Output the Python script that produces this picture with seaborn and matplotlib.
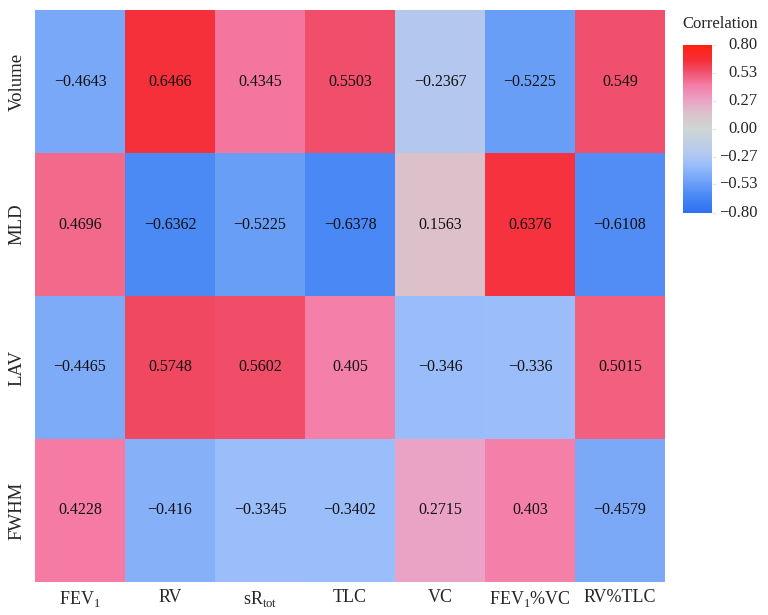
import matplotlib
matplotlib.use("Agg")
import matplotlib.pyplot as plt
import numpy as np
import pandas as pd
import seaborn as sns
from matplotlib.colors import LinearSegmentedColormap

# data
rows = ["Volume", "MLD", "LAV", "FWHM"]
cols = ["FEV$_\\mathregular{1}$", "RV", "sR$_\\mathregular{tot}$", "TLC", "VC",
        "FEV$_\\mathregular{1}$%VC", "RV%TLC"]
volume = [-0.4643, 0.6466, 0.4345, 0.5503, -0.2367, -0.5225, 0.549]
mld = [0.4696, -0.6362, -0.5225, -0.6378, 0.1563, 0.6376, -0.6108]
lav = [-0.4465, 0.5748, 0.5602, 0.405, -0.346, -0.336, 0.5015]
fwhm = [0.4228, -0.416, -0.3345, -0.3402, 0.2715, 0.403, -0.4579]
cbar_ticks = [-0.8, -0.53, -0.27, 0.0, 0.27, 0.53, 0.8]

df = pd.DataFrame([volume, mld, lav, fwhm], index=rows, columns=cols)
labels = df.map(lambda v: str(v).replace("-", "\u2212"))

# colour scale
nodes = [(-0.8, "#2e6ff0"), (-0.64, "#4a88f5"), (-0.52, "#6a9ff7"), (-0.45, "#7eabf8"),
         (-0.34, "#9abefa"), (-0.24, "#b3c8f0"), (0.0, "#cfd6d4"), (0.16, "#dcc0ca"),
         (0.27, "#eaa3c6"), (0.42, "#f57ca6"), (0.47, "#f36a8c"), (0.55, "#f0506e"),
         (0.65, "#f5303a"), (0.8, "#ff2010")]
cmap = LinearSegmentedColormap.from_list(
    "corr", [((v + 0.8) / 1.6, c) for v, c in nodes])

sns.set_theme(style="white")
plt.rcParams["font.family"] = ["Liberation Serif", "DejaVu Serif"]
plt.rcParams["axes.unicode_minus"] = True

fig = plt.figure(figsize=(7.68, 6.15), dpi=100)
ax = fig.add_axes([0.0456, 0.0537, 0.8203, 0.930])
cax = fig.add_axes([0.889, 0.654, 0.038, 0.273])

sns.heatmap(df, ax=ax, cbar_ax=cax, cmap=cmap, vmin=-0.8, vmax=0.8,
            annot=labels, fmt="", annot_kws={"size": 11.5, "color": "#111111"},
            cbar_kws={"ticks": cbar_ticks})

ax.tick_params(axis="x", length=0, labelsize=13, pad=5)
ax.tick_params(axis="y", length=0, labelsize=13.5, pad=7)
ax.set_yticklabels(rows, rotation=90, va="center")
ax.set_xticklabels(cols, rotation=0)
ax.set_xlabel("")
ax.set_ylabel("")

# colorbar labels, right aligned like the reference
cax.set_yticklabels([])
cax.tick_params(length=3, width=1, color="#e8e8e8")
for t in cbar_ticks:
    cax.text(2.55, t, "{:.2f}".format(t).replace("-", "\u2212"), fontsize=12,
             ha="right", va="center", transform=cax.get_yaxis_transform())
for s in cax.spines.values():
    s.set_visible(False)
fig.text(720 / 768, 0.9545, "Correlation", fontsize=12, ha="center", va="baseline")

fig.savefig("out.png", dpi=100)
